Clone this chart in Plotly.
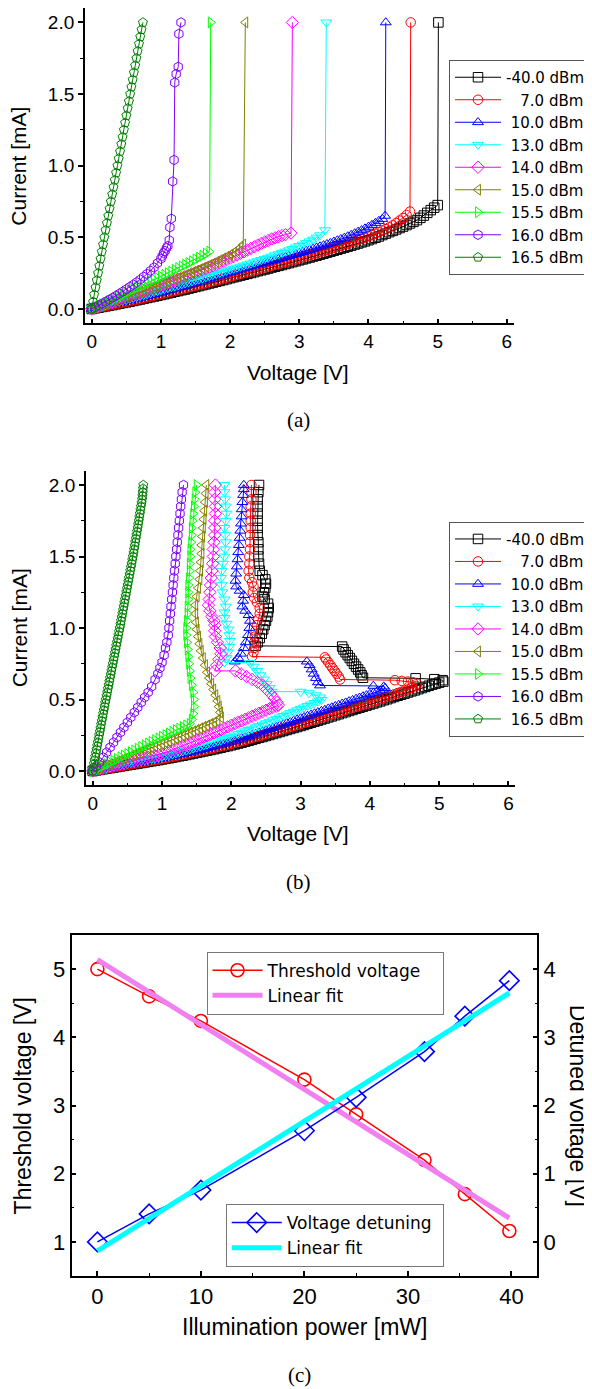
import plotly.graph_objects as go

# reference canvas (592 x 1389); the page body has an 8 px default margin,
# so the figure itself is drawn 8 px smaller and every position is offset by 8 px
W, H = 592, 1389
OFF = 8
FW, FH = W - OFF, H - OFF

# ---------------- shared sampling grids ----------------
V_GRID = [0.00, 0.05, 0.10, 0.15, 0.20, 0.25, 0.30, 0.35, 0.40, 0.45,
          0.50, 0.55, 0.60, 0.65, 0.70, 0.75, 0.80, 0.85, 0.90, 0.95,
          1.00, 1.05, 1.10, 1.15, 1.20, 1.25, 1.30, 1.35, 1.40, 1.45,
          1.50, 1.55, 1.60, 1.65, 1.70, 1.75, 1.80, 1.85, 1.90, 1.95,
          2.00, 2.05, 2.10, 2.15, 2.20, 2.25, 2.30, 2.35, 2.40, 2.45,
          2.50, 2.55, 2.60, 2.65, 2.70, 2.75, 2.80, 2.85, 2.90, 2.95,
          3.00, 3.05, 3.10, 3.15, 3.20, 3.25, 3.30, 3.35, 3.40, 3.45,
          3.50, 3.55, 3.60, 3.65, 3.70, 3.75, 3.80, 3.85, 3.90, 3.95,
          4.00, 4.05, 4.10, 4.15, 4.20, 4.25, 4.30, 4.35, 4.40, 4.45,
          4.50, 4.55, 4.60, 4.65, 4.70, 4.75, 4.80, 4.85, 4.90, 4.95, 5.00]
I_GRID = [0.00, 0.05, 0.10, 0.15, 0.20, 0.25, 0.30, 0.35, 0.40, 0.45,
          0.50, 0.55, 0.60, 0.65, 0.70, 0.75, 0.80, 0.85, 0.90, 0.95,
          1.00, 1.05, 1.10, 1.15, 1.20, 1.25, 1.30, 1.35, 1.40, 1.45,
          1.50, 1.55, 1.60, 1.65, 1.70, 1.75, 1.80, 1.85, 1.90, 1.95, 2.00]
I_GRID_FINE = [0.000, 0.025, 0.050, 0.075, 0.100, 0.125, 0.150, 0.175, 0.200, 0.225,
               0.250, 0.275, 0.300, 0.325, 0.350, 0.375, 0.400, 0.425, 0.450, 0.475,
               0.500, 0.525, 0.550, 0.575, 0.600, 0.625, 0.650, 0.675, 0.700, 0.725,
               0.750, 0.775, 0.800, 0.825, 0.850, 0.875, 0.900, 0.925, 0.950, 0.975,
               1.000, 1.025, 1.050, 1.075, 1.100, 1.125, 1.150, 1.175, 1.200, 1.225,
               1.250, 1.275, 1.300, 1.325, 1.350, 1.375, 1.400, 1.425, 1.450, 1.475,
               1.500, 1.525, 1.550, 1.575, 1.600, 1.625, 1.650, 1.675, 1.700, 1.725,
               1.750, 1.775, 1.800, 1.825, 1.850, 1.875, 1.900, 1.925, 1.950, 1.975, 2.000]

LABELS = ["-40.0 dBm", "\u00a0\u00a0\u00a07.0 dBm", "\u00a010.0 dBm", "\u00a013.0 dBm",
          "\u00a014.0 dBm", "\u00a015.0 dBm", "\u00a015.5 dBm", "\u00a016.0 dBm", "\u00a016.5 dBm"]
COLORS = ["#000000", "#ff0000", "#0000ff", "#00ffff", "#ff00ff",
          "#808000", "#00ff00", "#8000ff", "#008000"]
SYMBOLS = ["square-open", "circle-open", "triangle-up-open", "triangle-down-open",
           "diamond-open", "triangle-left-open", "triangle-right-open",
           "hexagon-open", "pentagon-open"]

# ---------------- panel (a): current [mA] on V_GRID, then jump points ----------------
A_BLACK_I = [0.000, 0.005, 0.009, 0.014, 0.018, 0.023, 0.027, 0.032, 0.037, 0.042,
             0.046, 0.051, 0.056, 0.061, 0.066, 0.071, 0.077, 0.082, 0.087, 0.092,
             0.098, 0.103, 0.109, 0.114, 0.120, 0.125, 0.131, 0.136, 0.142, 0.148,
             0.154, 0.160, 0.166, 0.172, 0.178, 0.184, 0.190, 0.196, 0.202, 0.208,
             0.215, 0.221, 0.227, 0.233, 0.239, 0.245, 0.251, 0.257, 0.264, 0.270,
             0.276, 0.282, 0.289, 0.295, 0.301, 0.307, 0.314, 0.320, 0.327, 0.333,
             0.340, 0.346, 0.353, 0.359, 0.366, 0.372, 0.379, 0.386, 0.393, 0.400,
             0.407, 0.414, 0.421, 0.428, 0.435, 0.442, 0.450, 0.457, 0.465, 0.472,
             0.480, 0.488, 0.497, 0.506, 0.516, 0.526, 0.536, 0.545, 0.555, 0.565,
             0.575, 0.586, 0.597, 0.608, 0.620, 0.636, 0.652, 0.671, 0.690, 0.707, 0.725]
A_BLACK_END_V = [5.01]
A_BLACK_END_I = [2.0]

A_RED_I = [0.000, 0.005, 0.010, 0.015, 0.019, 0.024, 0.029, 0.034, 0.039, 0.044,
           0.049, 0.054, 0.059, 0.064, 0.070, 0.075, 0.081, 0.086, 0.092, 0.097,
           0.103, 0.108, 0.114, 0.120, 0.126, 0.132, 0.138, 0.144, 0.150, 0.156,
           0.162, 0.168, 0.174, 0.180, 0.186, 0.192, 0.199, 0.205, 0.212, 0.218,
           0.225, 0.231, 0.238, 0.244, 0.251, 0.257, 0.264, 0.270, 0.277, 0.283,
           0.290, 0.296, 0.303, 0.309, 0.316, 0.322, 0.329, 0.335, 0.342, 0.348,
           0.355, 0.362, 0.369, 0.376, 0.383, 0.390, 0.397, 0.404, 0.412, 0.419,
           0.427, 0.434, 0.442, 0.449, 0.457, 0.465, 0.473, 0.481, 0.490, 0.498,
           0.507, 0.516, 0.526, 0.536, 0.547, 0.558, 0.570, 0.584, 0.600, 0.617,
           0.635, 0.656, 0.680]
A_RED_END_V = [4.61]
A_RED_END_I = [2.0]

A_BLUE_I = [0.000, 0.006, 0.011, 0.017, 0.022, 0.028, 0.033, 0.039, 0.044, 0.050,
            0.056, 0.061, 0.067, 0.073, 0.079, 0.085, 0.091, 0.097, 0.103, 0.109,
            0.115, 0.122, 0.129, 0.135, 0.142, 0.149, 0.156, 0.162, 0.169, 0.176,
            0.183, 0.190, 0.197, 0.204, 0.212, 0.219, 0.226, 0.233, 0.241, 0.248,
            0.255, 0.261, 0.268, 0.275, 0.282, 0.288, 0.295, 0.302, 0.309, 0.315,
            0.322, 0.329, 0.336, 0.342, 0.349, 0.356, 0.363, 0.369, 0.376, 0.383,
            0.390, 0.397, 0.405, 0.412, 0.420, 0.428, 0.436, 0.444, 0.452, 0.460,
            0.469, 0.478, 0.487, 0.496, 0.506, 0.516, 0.527, 0.538, 0.549, 0.561,
            0.573, 0.586, 0.600, 0.614, 0.628]
A_BLUE_END_V = [4.24, 4.25]
A_BLUE_END_I = [0.65, 2.0]

A_CYAN_I = [0.000, 0.007, 0.013, 0.020, 0.026, 0.033, 0.039, 0.046, 0.052, 0.059,
            0.065, 0.072, 0.078, 0.085, 0.092, 0.098, 0.105, 0.112, 0.119, 0.126,
            0.133, 0.140, 0.146, 0.153, 0.159, 0.166, 0.173, 0.180, 0.187, 0.194,
            0.201, 0.208, 0.215, 0.223, 0.230, 0.238, 0.245, 0.253, 0.260, 0.268,
            0.275, 0.282, 0.289, 0.296, 0.303, 0.311, 0.318, 0.326, 0.334, 0.342,
            0.350, 0.358, 0.366, 0.375, 0.383, 0.392, 0.401, 0.410, 0.420, 0.430,
            0.440, 0.450, 0.461, 0.473, 0.485, 0.499, 0.515]
A_CYAN_END_V = [3.37, 3.39]
A_CYAN_END_I = [0.55, 2.0]

A_MAGENTA_I = [0.000, 0.008, 0.016, 0.024, 0.032, 0.040, 0.048, 0.056, 0.064, 0.072,
               0.080, 0.088, 0.096, 0.105, 0.113, 0.122, 0.130, 0.139, 0.147, 0.156,
               0.164, 0.173, 0.181, 0.190, 0.199, 0.208, 0.217, 0.226, 0.235, 0.245,
               0.254, 0.264, 0.273, 0.283, 0.292, 0.302, 0.312, 0.323, 0.333, 0.344,
               0.354, 0.365, 0.376, 0.388, 0.399, 0.411, 0.422, 0.434, 0.446, 0.457,
               0.468, 0.478, 0.488, 0.497, 0.505, 0.512, 0.518]
A_MAGENTA_END_V = [2.88, 2.90]
A_MAGENTA_END_I = [0.53, 2.0]

A_OLIVE_I = [0.000, 0.009, 0.017, 0.026, 0.034, 0.042, 0.050, 0.059, 0.067, 0.076,
             0.084, 0.093, 0.101, 0.110, 0.118, 0.127, 0.135, 0.144, 0.152, 0.161,
             0.170, 0.178, 0.187, 0.196, 0.205, 0.215, 0.224, 0.233, 0.243, 0.253,
             0.263, 0.273, 0.284, 0.295, 0.306, 0.317, 0.329, 0.341, 0.353, 0.365,
             0.378, 0.393, 0.410, 0.428]
A_OLIVE_END_V = [2.19, 2.22]
A_OLIVE_END_I = [0.45, 2.0]

A_GREEN_I = [0.000, 0.011, 0.022, 0.033, 0.044, 0.055, 0.066, 0.078, 0.089, 0.100,
             0.112, 0.123, 0.135, 0.146, 0.158, 0.169, 0.181, 0.192, 0.204, 0.215,
             0.227, 0.238, 0.250, 0.261, 0.273, 0.285, 0.297, 0.309, 0.321, 0.333,
             0.346, 0.359, 0.372, 0.386, 0.400]
A_GREEN_END_V = [1.72]
A_GREEN_END_I = [2.0]

A_PURPLE_V = [0.0, 0.05, 0.1, 0.15, 0.2, 0.25, 0.3, 0.35, 0.4, 0.45,
              0.5, 0.55, 0.6, 0.65, 0.7, 0.75, 0.8, 0.85, 0.9, 0.95,
              1.0, 1.02, 1.04, 1.06, 1.08, 1.10, 1.12, 1.13, 1.15, 1.17,
              1.19, 1.20, 1.22, 1.25, 1.26, 1.29]
A_PURPLE_I = [0.0, 0.012, 0.025, 0.037, 0.05, 0.064, 0.078, 0.092, 0.107, 0.122,
              0.138, 0.154, 0.17, 0.187, 0.205, 0.225, 0.245, 0.267, 0.29, 0.32,
              0.35, 0.37, 0.39, 0.405, 0.425, 0.44, 0.48, 0.57, 0.63, 0.89,
              1.04, 1.58, 1.64, 1.69, 1.92, 2.0]

A_DKGREEN_V = [0.000, 0.020, 0.035, 0.055, 0.073, 0.092, 0.110, 0.128, 0.146, 0.164,
               0.182, 0.200, 0.220, 0.240, 0.258, 0.277, 0.296, 0.315, 0.334, 0.353,
               0.372, 0.390, 0.410, 0.428, 0.446, 0.465, 0.483, 0.501, 0.520, 0.538,
               0.556, 0.574, 0.592, 0.610, 0.628, 0.646, 0.664, 0.683, 0.702, 0.720, 0.740]

# ---------------- panel (b): lower branch on V_GRID, then return path ----------------
B_BLACK_I = [0.000, 0.004, 0.008, 0.012, 0.016, 0.020, 0.024, 0.028, 0.032, 0.036,
             0.040, 0.044, 0.048, 0.052, 0.056, 0.060, 0.064, 0.068, 0.072, 0.076,
             0.080, 0.085, 0.089, 0.094, 0.098, 0.103, 0.107, 0.112, 0.117, 0.122,
             0.127, 0.132, 0.137, 0.142, 0.147, 0.152, 0.158, 0.163, 0.169, 0.174,
             0.180, 0.186, 0.192, 0.198, 0.205, 0.211, 0.218, 0.225, 0.232, 0.238,
             0.245, 0.252, 0.259, 0.266, 0.273, 0.280, 0.287, 0.294, 0.301, 0.308,
             0.315, 0.322, 0.330, 0.337, 0.345, 0.352, 0.360, 0.367, 0.375, 0.382,
             0.390, 0.397, 0.405, 0.412, 0.420, 0.427, 0.435, 0.442, 0.450, 0.457,
             0.465, 0.472, 0.480, 0.487, 0.495, 0.502, 0.510, 0.518, 0.526, 0.533,
             0.541, 0.549, 0.557, 0.564, 0.572, 0.580, 0.588, 0.596, 0.604, 0.611, 0.618]
B_BLACK_END_V = [5.06, 5.05, 4.93, 4.66, 3.90, 3.88, 3.86, 3.83, 3.80, 3.77, 3.74, 3.71,
                 3.68, 3.65, 3.62, 3.60, 2.35, 2.38, 2.41, 2.44, 2.46, 2.48, 2.50, 2.52,
                 2.53, 2.54, 2.53, 2.48, 2.45, 2.47, 2.49, 2.50, 2.49, 2.45, 2.41, 2.40,
                 2.39, 2.39, 2.39, 2.38, 2.38, 2.38, 2.38, 2.38, 2.38, 2.39, 2.40]
B_BLACK_END_I = [0.625, 0.635, 0.642, 0.648, 0.652, 0.67, 0.69, 0.71, 0.73, 0.75, 0.77,
                 0.79, 0.81, 0.83, 0.85, 0.87, 0.875, 0.90, 0.93, 0.96, 0.99, 1.02, 1.05,
                 1.08, 1.11, 1.14, 1.17, 1.20, 1.22, 1.25, 1.28, 1.31, 1.34, 1.37, 1.40,
                 1.45, 1.50, 1.55, 1.60, 1.65, 1.70, 1.75, 1.80, 1.85, 1.90, 1.95, 2.0]

B_RED_I = [0.000, 0.004, 0.008, 0.013, 0.017, 0.021, 0.025, 0.030, 0.034, 0.038,
           0.042, 0.047, 0.051, 0.055, 0.059, 0.064, 0.068, 0.072, 0.076, 0.080,
           0.085, 0.090, 0.095, 0.100, 0.104, 0.109, 0.114, 0.119, 0.124, 0.130,
           0.135, 0.140, 0.145, 0.151, 0.156, 0.162, 0.167, 0.173, 0.178, 0.184,
           0.190, 0.197, 0.203, 0.210, 0.217, 0.224, 0.231, 0.238, 0.245, 0.252,
           0.259, 0.266, 0.273, 0.280, 0.287, 0.294, 0.301, 0.308, 0.315, 0.322,
           0.330, 0.337, 0.345, 0.352, 0.360, 0.367, 0.375, 0.382, 0.390, 0.397,
           0.405, 0.412, 0.420, 0.427, 0.435, 0.442, 0.450, 0.457, 0.465, 0.472,
           0.480, 0.488, 0.496, 0.504, 0.512, 0.520, 0.528, 0.536, 0.545, 0.553,
           0.562, 0.571, 0.580]
B_RED_END_V = [4.67, 4.68, 4.62, 4.55, 4.46, 4.36, 3.57, 3.55, 3.52, 3.49, 3.46, 3.43,
               3.40, 3.37, 3.35, 2.30, 2.32, 2.33, 2.33, 2.34, 2.35, 2.37, 2.39, 2.41,
               2.41, 2.37, 2.33, 2.31, 2.32, 2.30, 2.26, 2.25, 2.26, 2.26, 2.27, 2.27,
               2.27, 2.28, 2.28, 2.28, 2.28, 2.29, 2.29, 2.29]
B_RED_END_I = [0.595, 0.61, 0.62, 0.625, 0.63, 0.635, 0.64, 0.66, 0.68, 0.70, 0.72, 0.74,
               0.76, 0.78, 0.795, 0.80, 0.83, 0.86, 0.90, 0.94, 0.98, 1.02, 1.06, 1.10,
               1.14, 1.18, 1.21, 1.25, 1.29, 1.32, 1.35, 1.40, 1.45, 1.50, 1.55, 1.60,
               1.65, 1.70, 1.75, 1.80, 1.85, 1.90, 1.95, 2.0]

B_BLUE_I = [0.000, 0.005, 0.009, 0.014, 0.018, 0.023, 0.027, 0.032, 0.036, 0.041,
            0.045, 0.050, 0.054, 0.059, 0.063, 0.068, 0.072, 0.077, 0.081, 0.086,
            0.090, 0.095, 0.100, 0.105, 0.110, 0.115, 0.120, 0.125, 0.131, 0.136,
            0.142, 0.148, 0.154, 0.160, 0.166, 0.172, 0.179, 0.185, 0.192, 0.199,
            0.206, 0.213, 0.221, 0.228, 0.236, 0.244, 0.252, 0.260, 0.268, 0.276,
            0.284, 0.292, 0.300, 0.308, 0.317, 0.325, 0.334, 0.342, 0.351, 0.359,
            0.368, 0.376, 0.385, 0.393, 0.402, 0.410, 0.419, 0.427, 0.436, 0.444,
            0.453, 0.461, 0.470, 0.478, 0.487, 0.495, 0.504, 0.512, 0.521, 0.529,
            0.538, 0.546, 0.554, 0.561]
B_BLUE_END_V = [4.19, 4.22, 4.20, 4.05, 3.28, 3.25, 3.22, 3.19, 3.16, 3.13, 3.09, 2.05,
                2.10, 2.14, 2.18, 2.21, 2.24, 2.26, 2.27, 2.25, 2.20, 2.16, 2.17, 2.18,
                2.12, 2.07, 2.06, 2.07, 2.08, 2.09, 2.10, 2.11, 2.12, 2.13, 2.14, 2.15,
                2.15, 2.16, 2.17, 2.18, 2.18]
B_BLUE_END_I = [0.568, 0.58, 0.59, 0.595, 0.598, 0.62, 0.65, 0.68, 0.71, 0.74, 0.765, 0.765,
                0.79, 0.82, 0.86, 0.90, 0.95, 1.00, 1.05, 1.09, 1.12, 1.15, 1.19, 1.23,
                1.26, 1.29, 1.33, 1.38, 1.43, 1.48, 1.53, 1.58, 1.63, 1.68, 1.73, 1.78,
                1.83, 1.88, 1.93, 1.97, 2.0]

B_CYAN_I = [0.000, 0.005, 0.010, 0.015, 0.020, 0.025, 0.030, 0.035, 0.040, 0.045,
            0.050, 0.055, 0.060, 0.065, 0.070, 0.075, 0.080, 0.085, 0.090, 0.095,
            0.100, 0.106, 0.112, 0.118, 0.125, 0.131, 0.138, 0.144, 0.151, 0.158,
            0.165, 0.172, 0.179, 0.186, 0.194, 0.201, 0.209, 0.216, 0.224, 0.232,
            0.240, 0.249, 0.259, 0.268, 0.278, 0.287, 0.297, 0.306, 0.316, 0.325,
            0.335, 0.345, 0.355, 0.365, 0.375, 0.385, 0.395, 0.405, 0.415, 0.425,
            0.435, 0.445, 0.455, 0.465, 0.476, 0.487]
B_CYAN_END_V = [3.30, 3.28, 3.22, 3.12, 3.00, 2.58, 2.55, 2.51, 2.47, 2.42, 2.37, 2.32,
                2.27, 1.90, 1.93, 1.95, 1.97, 1.98, 1.97, 1.96, 1.93, 1.90, 1.90, 1.92,
                1.90, 1.87, 1.86, 1.85, 1.86, 1.88, 1.90, 1.91, 1.92, 1.91, 1.90, 1.92,
                1.93, 1.92, 1.91, 1.90, 1.90]
B_CYAN_END_I = [0.498, 0.515, 0.53, 0.545, 0.555, 0.555, 0.58, 0.61, 0.64, 0.67, 0.70, 0.73,
                0.757, 0.76, 0.79, 0.83, 0.87, 0.91, 0.95, 0.99, 1.03, 1.07, 1.11, 1.15,
                1.20, 1.25, 1.30, 1.35, 1.40, 1.45, 1.50, 1.55, 1.60, 1.65, 1.70, 1.75,
                1.80, 1.85, 1.90, 1.95, 2.0]

B_MAGENTA_I = [0.000, 0.006, 0.012, 0.018, 0.024, 0.030, 0.036, 0.042, 0.048, 0.054,
               0.060, 0.066, 0.072, 0.078, 0.084, 0.090, 0.096, 0.102, 0.108, 0.114,
               0.120, 0.129, 0.138, 0.147, 0.157, 0.166, 0.176, 0.186, 0.196, 0.206,
               0.216, 0.226, 0.236, 0.246, 0.257, 0.267, 0.278, 0.288, 0.299, 0.309,
               0.320, 0.330, 0.341, 0.351, 0.362, 0.372, 0.383, 0.393, 0.404, 0.414,
               0.425, 0.435, 0.445, 0.453]
B_MAGENTA_END_V = [2.68, 2.66, 2.62, 2.57, 2.51, 2.45, 2.38, 2.30, 2.22, 2.14, 2.06, 1.76,
                   1.79, 1.82, 1.85, 1.84, 1.80, 1.77, 1.76, 1.76, 1.75, 1.72, 1.69, 1.67,
                   1.68, 1.69, 1.70, 1.71, 1.72, 1.73, 1.74, 1.74, 1.75, 1.76, 1.76, 1.76,
                   1.77, 1.77, 1.76, 1.76, 1.77]
B_MAGENTA_END_I = [0.46, 0.48, 0.51, 0.54, 0.57, 0.60, 0.62, 0.64, 0.66, 0.68, 0.70, 0.70,
                   0.74, 0.78, 0.82, 0.86, 0.90, 0.94, 0.98, 1.02, 1.05, 1.08, 1.12, 1.16,
                   1.20, 1.25, 1.30, 1.35, 1.40, 1.45, 1.50, 1.55, 1.60, 1.65, 1.70, 1.75,
                   1.80, 1.85, 1.90, 1.95, 2.0]

B_OLIVE_I = [0.000, 0.010, 0.019, 0.029, 0.038, 0.048, 0.057, 0.067, 0.076, 0.086,
             0.095, 0.105, 0.114, 0.124, 0.133, 0.143, 0.152, 0.162, 0.171, 0.181,
             0.190, 0.200, 0.209, 0.219, 0.228, 0.238, 0.248, 0.258, 0.268, 0.278,
             0.288, 0.298, 0.309, 0.319, 0.330, 0.341, 0.352]
B_OLIVE_END_V = [1.85, 1.84, 1.82, 1.80, 1.77, 1.74, 1.71, 1.68, 1.65, 1.62, 1.59, 1.56,
                 1.54, 1.52, 1.50, 1.49, 1.48, 1.48, 1.50, 1.52, 1.54, 1.55, 1.56, 1.57,
                 1.57, 1.58, 1.59, 1.60, 1.61, 1.62, 1.63, 1.64]
B_OLIVE_END_I = [0.375, 0.41, 0.45, 0.49, 0.53, 0.57, 0.61, 0.65, 0.69, 0.74, 0.79, 0.84,
                 0.89, 0.94, 0.99, 1.04, 1.10, 1.16, 1.22, 1.28, 1.34, 1.40, 1.46, 1.52,
                 1.58, 1.64, 1.70, 1.76, 1.82, 1.88, 1.94, 2.0]

B_GREEN_I = [0.000, 0.012, 0.024, 0.036, 0.048, 0.060, 0.072, 0.084, 0.096, 0.108,
             0.120, 0.132, 0.144, 0.156, 0.168, 0.180, 0.192, 0.204, 0.216, 0.228,
             0.240, 0.252, 0.263, 0.274, 0.285, 0.297, 0.308, 0.319, 0.330]
B_GREEN_END_V = [1.43, 1.45, 1.46, 1.46, 1.45, 1.43, 1.41, 1.40, 1.39, 1.38, 1.37, 1.36,
                 1.35, 1.35, 1.36, 1.37, 1.37, 1.38, 1.38, 1.38, 1.39, 1.40, 1.40, 1.41,
                 1.41, 1.42, 1.43, 1.43, 1.44, 1.45, 1.46, 1.47, 1.48, 1.50]
B_GREEN_END_I = [0.36, 0.40, 0.45, 0.50, 0.55, 0.60, 0.65, 0.70, 0.75, 0.80, 0.85, 0.90,
                 0.95, 1.00, 1.05, 1.10, 1.15, 1.20, 1.25, 1.30, 1.35, 1.40, 1.45, 1.50,
                 1.55, 1.60, 1.65, 1.70, 1.75, 1.80, 1.85, 1.90, 1.95, 2.0]

B_PURPLE_V = [0.00, 0.05, 0.10, 0.15, 0.20, 0.25, 0.30, 0.35, 0.40, 0.45, 0.50, 0.55,
              0.60, 0.65, 0.70, 0.75, 0.80, 0.85, 0.90, 0.94, 0.97, 1.00, 1.03, 1.05,
              1.07, 1.09, 1.10, 1.11, 1.12, 1.13, 1.14, 1.15, 1.16, 1.17, 1.18, 1.19,
              1.20, 1.21, 1.22, 1.23, 1.24, 1.25, 1.26, 1.27, 1.28, 1.29, 1.31]
B_PURPLE_I = [0.00, 0.03, 0.06, 0.095, 0.13, 0.165, 0.20, 0.235, 0.27, 0.305, 0.34, 0.375,
              0.41, 0.445, 0.48, 0.515, 0.55, 0.59, 0.64, 0.68, 0.72, 0.76, 0.81, 0.86,
              0.90, 0.95, 1.00, 1.05, 1.10, 1.15, 1.20, 1.25, 1.30, 1.35, 1.40, 1.45,
              1.50, 1.55, 1.60, 1.65, 1.70, 1.75, 1.80, 1.85, 1.90, 1.95, 2.00]

B_DKGREEN_V = [0.000, 0.009, 0.018, 0.027, 0.036, 0.046, 0.055, 0.065, 0.074, 0.084,
               0.093, 0.103, 0.112, 0.122, 0.131, 0.141, 0.150, 0.160, 0.170, 0.180,
               0.190, 0.200, 0.210, 0.220, 0.230, 0.240, 0.250, 0.260, 0.270, 0.280,
               0.290, 0.300, 0.310, 0.320, 0.330, 0.340, 0.350, 0.360, 0.370, 0.380,
               0.390, 0.400, 0.409, 0.419, 0.428, 0.438, 0.447, 0.457, 0.466, 0.476,
               0.485, 0.495, 0.504, 0.514, 0.523, 0.533, 0.542, 0.552, 0.561, 0.571,
               0.580, 0.589, 0.597, 0.606, 0.614, 0.623, 0.631, 0.640, 0.648, 0.657,
               0.665, 0.673, 0.681, 0.689, 0.697, 0.705, 0.713, 0.718, 0.722, 0.726, 0.730]

# ---------------- panel (c) ----------------
C_POWER = [0, 5, 10, 20, 25, 31.6, 35.5, 39.8]
C_THRESHOLD = [5.0, 4.6, 4.24, 3.38, 2.87, 2.2, 1.7, 1.16]
C_DETUNING = [0.0, 0.41, 0.76, 1.63, 2.12, 2.79, 3.31, 3.83]
C_FIT_X = [0, 39.8]
C_THRESHOLD_FIT = [5.14, 1.35]
C_DETUNING_FIT = [-0.13, 3.65]


def px(x):
    return (x - OFF) / FW


def py(y):
    return 1 - (y - OFF) / FH


def grid_curve(lower_i, end_v, end_i):
    return V_GRID[:len(lower_i)] + end_v, lower_i + end_i


panel_a = [
    grid_curve(A_BLACK_I, A_BLACK_END_V, A_BLACK_END_I),
    grid_curve(A_RED_I, A_RED_END_V, A_RED_END_I),
    grid_curve(A_BLUE_I, A_BLUE_END_V, A_BLUE_END_I),
    grid_curve(A_CYAN_I, A_CYAN_END_V, A_CYAN_END_I),
    grid_curve(A_MAGENTA_I, A_MAGENTA_END_V, A_MAGENTA_END_I),
    grid_curve(A_OLIVE_I, A_OLIVE_END_V, A_OLIVE_END_I),
    grid_curve(A_GREEN_I, A_GREEN_END_V, A_GREEN_END_I),
    (A_PURPLE_V, A_PURPLE_I),
    (A_DKGREEN_V, I_GRID),
]
panel_b = [
    grid_curve(B_BLACK_I, B_BLACK_END_V, B_BLACK_END_I),
    grid_curve(B_RED_I, B_RED_END_V, B_RED_END_I),
    grid_curve(B_BLUE_I, B_BLUE_END_V, B_BLUE_END_I),
    grid_curve(B_CYAN_I, B_CYAN_END_V, B_CYAN_END_I),
    grid_curve(B_MAGENTA_I, B_MAGENTA_END_V, B_MAGENTA_END_I),
    grid_curve(B_OLIVE_I, B_OLIVE_END_V, B_OLIVE_END_I),
    grid_curve(B_GREEN_I, B_GREEN_END_V, B_GREEN_END_I),
    (B_PURPLE_V, B_PURPLE_I),
    (B_DKGREEN_V, I_GRID_FINE),
]

fig = go.Figure()

for panel, xa, ya, lg in [(panel_a, "x", "y", "legend"), (panel_b, "x2", "y2", "legend2")]:
    for k, (vv, ii) in enumerate(panel):
        fig.add_trace(go.Scatter(
            x=vv, y=ii, xaxis=xa, yaxis=ya, legend=lg, name=LABELS[k],
            mode="lines+markers",
            line=dict(color=COLORS[k], width=1),
            marker=dict(symbol=SYMBOLS[k], size=9.5, color=COLORS[k],
                        line=dict(width=1, color=COLORS[k])),
        ))

fig.add_trace(go.Scatter(
    x=C_POWER, y=C_THRESHOLD, xaxis="x3", yaxis="y3", legend="legend3",
    name="Threshold voltage\u00a0\u00a0\u00a0", mode="lines+markers",
    line=dict(color="#ff0000", width=1.5),
    marker=dict(symbol="circle-open", size=13, color="#ff0000", line=dict(width=1.6, color="#ff0000")),
))
fig.add_trace(go.Scatter(
    x=C_FIT_X, y=C_THRESHOLD_FIT, xaxis="x3", yaxis="y3", legend="legend3",
    name="Linear fit", mode="lines", line=dict(color="#f080f0", width=5),
))
fig.add_trace(go.Scatter(
    x=C_POWER, y=C_DETUNING, xaxis="x3", yaxis="y4", legend="legend4",
    name="Voltage detuning\u00a0", mode="lines+markers",
    line=dict(color="#0000ff", width=1.5),
    marker=dict(symbol="diamond-open", size=15, color="#0000ff", line=dict(width=1.6, color="#0000ff")),
))
fig.add_trace(go.Scatter(
    x=C_FIT_X, y=C_DETUNING_FIT, xaxis="x3", yaxis="y4", legend="legend4",
    name="Linear fit", mode="lines", line=dict(color="#00ffff", width=5),
))

AX = dict(showgrid=False, zeroline=False, showline=True, linecolor="black", linewidth=1.5,
          tickcolor="black", tickwidth=1.5, ticklen=5)
TF_AB = dict(family="Arial", size=19, color="black")
TF_C = dict(family="Arial", size=22, color="black")
MINOR_IN = dict(ticks="inside", ticklen=3, tickwidth=1, tickcolor="black")
MINOR_OUT = dict(ticks="outside", ticklen=3, tickwidth=1, tickcolor="black")

LEG_AB = dict(xanchor="left", yanchor="top", bordercolor="#555555", borderwidth=1,
              bgcolor="white", font=dict(family="DejaVu Sans", size=15, color="black"),
              tracegroupgap=0, itemwidth=46)
LEG_C = dict(xanchor="left", yanchor="top", bordercolor="#777777", borderwidth=1,
             bgcolor="white", font=dict(family="DejaVu Sans", size=17, color="black"),
             tracegroupgap=0, itemwidth=50)

fig.update_layout(
    width=FW, height=FH,
    margin=dict(l=0, r=0, t=0, b=0),
    paper_bgcolor="white", plot_bgcolor="white",
    showlegend=True,
    xaxis=dict(**AX, domain=[px(84.8), px(513.8)], range=[-0.1, 6.1], anchor="y",
               ticks="inside", tick0=0, dtick=1, tickfont=TF_AB,
               minor=dict(**MINOR_IN, dtick=0.5)),
    yaxis=dict(**AX, domain=[py(323.3), py(8.1)], range=[-0.1, 2.1], anchor="x",
               ticks="outside", tick0=0, dtick=0.5, tickformat=".1f", tickfont=TF_AB,
               minor=dict(**MINOR_OUT, dtick=0.25)),
    xaxis2=dict(**AX, domain=[px(85.8), px(515.4)], range=[-0.1, 6.1], anchor="y2",
                ticks="inside", tick0=0, dtick=1, tickfont=TF_AB,
                minor=dict(**MINOR_IN, dtick=0.5)),
    yaxis2=dict(**AX, domain=[py(785.3), py(470.7)], range=[-0.1, 2.1], anchor="x2",
                ticks="outside", tick0=0, dtick=0.5, tickformat=".1f", tickfont=TF_AB,
                minor=dict(**MINOR_OUT, dtick=0.25)),
    xaxis3=dict(**AX, domain=[px(71.5), px(537.3)], range=[-2.5, 42.5], anchor="y3",
                mirror=True, ticks="inside", tick0=0, dtick=10, tickfont=TF_C,
                minor=dict(**MINOR_IN, dtick=5)),
    yaxis3=dict(**AX, domain=[py(1276), py(935)], range=[0.5, 5.5], anchor="x3",
                ticks="inside", tick0=0, dtick=1, tickfont=TF_C,
                minor=dict(**MINOR_IN, dtick=0.5)),
    yaxis4=dict(**AX, range=[-0.5, 4.5], anchor="x3", overlaying="y3", side="right",
                ticks="inside", tick0=0, dtick=1, tickfont=TF_C,
                minor=dict(**MINOR_IN, dtick=0.5)),
    legend=dict(**LEG_AB, x=px(449), y=py(60)),
    legend2=dict(**LEG_AB, x=px(449), y=py(521.7)),
    legend3=dict(**LEG_C, x=px(206.5), y=py(951.7)),
    legend4=dict(**LEG_C, x=px(225.7), y=py(1204)),
)

TITLE_AB = dict(family="Arial", size=21, color="black")
TITLE_C = dict(family="Arial", size=23, color="black")
CAP = dict(family="Liberation Serif, Times New Roman, serif", size=21, color="black")

ann = [
    ("Voltage [V]", 298.2, 372.2, 0, TITLE_AB),
    ("Current [mA]", 19, 166.7, -90, TITLE_AB),
    ("(a)", 298.3, 420, 0, CAP),
    ("Voltage [V]", 298.0, 833.3, 0, TITLE_AB),
    ("Current [mA]", 19, 628.3, -90, TITLE_AB),
    ("(b)", 298.3, 881.6, 0, CAP),
    ("Illumination power [mW]", 304.5, 1326.7, 0, TITLE_C),
    ("Threshold voltage [V]", 22.6, 1105.8, -90, TITLE_C),
    ("Detuned voltage [V]", 578, 1105.8, 90, TITLE_C),
    ("(c)", 299, 1375, 0, CAP),
]
for text, x, y, ang, font in ann:
    fig.add_annotation(text=text, x=px(x), y=py(y), xref="paper", yref="paper",
                       xanchor="center", yanchor="middle", showarrow=False,
                       textangle=ang, font=font)

fig.write_html("out.html")
